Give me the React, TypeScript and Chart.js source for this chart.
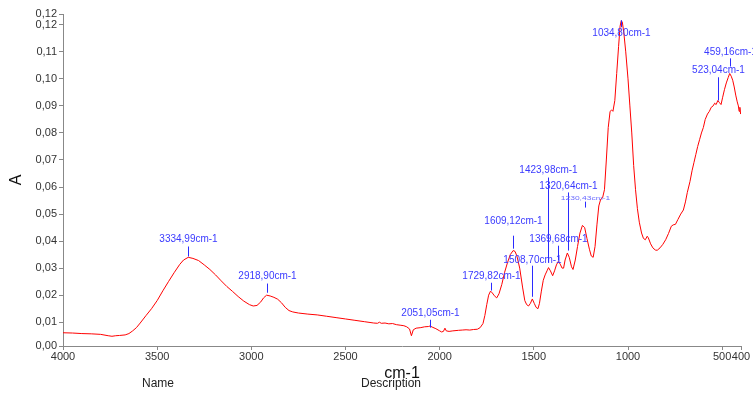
import React, { useEffect, useRef } from 'react';
import { Chart, registerables } from 'chart.js';

Chart.register(...registerables);

// ---- Data ----
const wavenumbers: number[] = [
  4000, 3950, 3900, 3850, 3800, 3760, 3740, 3720, 3700, 3670, 3650, 3630, 3610, 3590, 3560, 3530, 3500,
  3470, 3440, 3410, 3380, 3360, 3335, 3310, 3280, 3250, 3220, 3190, 3160, 3130, 3100, 3070, 3040, 3010,
  2990, 2970, 2950, 2935, 2919, 2900, 2880, 2860, 2840, 2820, 2800, 2780, 2750, 2700, 2650, 2600, 2550,
  2500, 2450, 2400, 2350, 2330, 2320, 2310, 2290, 2270, 2250, 2230, 2210, 2190, 2175, 2160, 2150, 2140,
  2125, 2100, 2080, 2060, 2051, 2040, 2020, 2000, 1990, 1980, 1972, 1965, 1950, 1930, 1900, 1880, 1860,
  1840, 1820, 1800, 1785, 1770, 1760, 1750, 1740, 1730, 1720, 1710, 1697, 1685, 1670, 1655, 1640, 1625,
  1610, 1600, 1590, 1575, 1560, 1548, 1538, 1528, 1518, 1508, 1498, 1488, 1478, 1470, 1460, 1450, 1440,
  1430, 1422, 1412, 1400, 1390, 1380, 1370, 1360, 1350, 1342, 1334, 1322, 1312, 1300, 1292, 1280, 1268,
  1255, 1242, 1230, 1218, 1205, 1195, 1185, 1175, 1165, 1155, 1145, 1135, 1125, 1115, 1105, 1095, 1087,
  1080, 1070, 1060, 1050, 1042, 1036, 1030, 1022, 1012, 1000, 990, 980, 970, 960, 950, 940, 928, 918,
  908, 898, 892, 880, 868, 855, 845, 830, 815, 800, 785, 770, 760, 748, 735, 720, 706, 695, 685, 671,
  660, 650, 640, 630, 620, 610, 600, 590, 578, 568, 558, 548, 540, 532, 523, 514, 506, 498, 488, 478,
  468, 460, 452, 444, 436, 428, 420, 414, 410, 406, 402, 400,
];

const absorbance: number[] = [
  0.0061, 0.0060, 0.0058, 0.0057, 0.0055, 0.0050, 0.0048, 0.0050, 0.0051, 0.0053, 0.0058, 0.0068, 0.0080,
  0.0097, 0.0124, 0.0150, 0.0180, 0.0216, 0.0250, 0.0283, 0.0314, 0.0330, 0.0340, 0.0336, 0.0328, 0.0312,
  0.0295, 0.0275, 0.0253, 0.0232, 0.0214, 0.0195, 0.0178, 0.0165, 0.0160, 0.0162, 0.0175, 0.0190, 0.0200,
  0.0197, 0.0192, 0.0185, 0.0172, 0.0155, 0.0143, 0.0138, 0.0134, 0.0130, 0.0127, 0.0122, 0.0117, 0.0112,
  0.0107, 0.0102, 0.0097, 0.0096, 0.0100, 0.0096, 0.0097, 0.0094, 0.0095, 0.0091, 0.0089, 0.0087, 0.0083,
  0.0075, 0.0050, 0.0072, 0.0078, 0.0080, 0.0083, 0.0084, 0.0086, 0.0082, 0.0076, 0.0068, 0.0064, 0.0066,
  0.0078, 0.0068, 0.0066, 0.0068, 0.0070, 0.0071, 0.0072, 0.0071, 0.0073, 0.0074, 0.0080, 0.0095, 0.0125,
  0.0165, 0.0200, 0.0215, 0.0208, 0.0198, 0.0190, 0.0205, 0.0240, 0.0285, 0.0320, 0.0350, 0.0365, 0.0362,
  0.0345, 0.0300, 0.0230, 0.0180, 0.0165, 0.0160, 0.0170, 0.0186, 0.0170, 0.0155, 0.0150, 0.0170, 0.0215,
  0.0255, 0.0275, 0.0290, 0.0302, 0.0290, 0.0272, 0.0290, 0.0312, 0.0325, 0.0315, 0.0300, 0.0300, 0.0330,
  0.0356, 0.0340, 0.0305, 0.0295, 0.0330, 0.0380, 0.0430, 0.0458, 0.0450, 0.0410, 0.0370, 0.0345, 0.0340,
  0.0380, 0.0460, 0.0530, 0.0555, 0.0560, 0.0590, 0.0700, 0.0820, 0.0880, 0.0885, 0.0880, 0.0920, 0.1020,
  0.1120, 0.1195, 0.1215, 0.1210, 0.1170, 0.1100, 0.1000, 0.0900, 0.0800, 0.0680, 0.0590, 0.0520, 0.0470,
  0.0430, 0.0410, 0.0405, 0.0418, 0.0412, 0.0390, 0.0375, 0.0367, 0.0366, 0.0375, 0.0388, 0.0405, 0.0428,
  0.0455, 0.0460, 0.0462, 0.0480, 0.0500, 0.0515, 0.0545, 0.0580, 0.0620, 0.0660, 0.0690, 0.0720, 0.0750,
  0.0775, 0.0800, 0.0820, 0.0850, 0.0870, 0.0880, 0.0895, 0.0900, 0.0910, 0.0905, 0.0920, 0.0912, 0.0905,
  0.0930, 0.0960, 0.0985, 0.1005, 0.1020, 0.1010, 0.0995, 0.0970, 0.0940, 0.0915, 0.0900, 0.0880, 0.0895,
  0.0870, 0.0872,
];

const xTickValues: number[] = [4000, 3500, 3000, 2500, 2000, 1500, 1000, 500, 400];
const yTickValues: number[] = [0.01, 0.02, 0.03, 0.04, 0.05, 0.06, 0.07, 0.08, 0.09, 0.10, 0.11, 0.12];
const X_MIN = 400;
const X_MAX = 4000;
const Y_MIN = 0.0012;
const Y_MAX = 0.124;

// Peak annotations
const peakLabels: string[] = [
  '3334,99cm-1', '2918,90cm-1', '2051,05cm-1', '1729,82cm-1', '1609,12cm-1', '1508,70cm-1',
  '1423,98cm-1', '1369,68cm-1', '1320,64cm-1', '1230,43cm-1', '1034,80cm-1', '523,04cm-1', '459,16cm-1',
];
const peakWaves: number[] = [3334.99, 2918.9, 2051.05, 1729.82, 1609.12, 1508.7, 1423.98, 1369.68, 1320.64, 1230.43, 1034.8, 523.04, 459.16];
const peakTextLevel: number[] = [0.0406, 0.0269, 0.0132, 0.0269, 0.0472, 0.0328, 0.0661, 0.0406, 0.0602, 0.0557, 0.1169, 0.1032, 0.1098];
const peakLineTop: number[] = [0.0380, 0.0243, 0.0109, 0.0246, 0.0420, 0.0309, 0.0635, 0.0383, 0.0580, 0.0546, 0.1217, 0.1006, 0.1076];
const peakLineBottom: number[] = [0.0343, 0.0209, 0.0080, 0.0217, 0.0372, 0.0194, 0.0320, 0.0328, 0.0365, 0.0524, 0.1191, 0.0920, 0.1046];

const FONT = "'Liberation Sans', Arial, sans-serif";

const peakPlugin = {
  id: 'peakLabels',
  afterDatasetsDraw(chart: any) {
    const { ctx, scales } = chart;
    const xs = scales.x;
    const ys = scales.y;
    ctx.save();
    for (let i = 0; i < peakLabels.length; i++) {
      const x = Math.round(xs.getPixelForValue(peakWaves[i])) + 0.5;
      ctx.strokeStyle = '#2b2bff';
      ctx.lineWidth = 1;
      ctx.beginPath();
      ctx.moveTo(x, ys.getPixelForValue(peakLineTop[i]));
      ctx.lineTo(x, ys.getPixelForValue(peakLineBottom[i]));
      ctx.stroke();
      const ty = ys.getPixelForValue(peakTextLevel[i]);
      ctx.fillStyle = '#3a3aff';
      ctx.textAlign = 'center';
      ctx.textBaseline = 'middle';
      if (peakLabels[i] === '1230,43cm-1') {
        ctx.save();
        ctx.translate(x, ty);
        ctx.scale(1.7, 1);
        ctx.font = `5px ${FONT}`;
        ctx.fillStyle = '#6a6aff';
        ctx.fillText(peakLabels[i], 0, 0);
        ctx.restore();
      } else {
        ctx.font = `10px ${FONT}`;
        ctx.fillText(peakLabels[i], x, ty);
      }
    }
    ctx.restore();
  },
  afterDraw(chart: any) {
    const { ctx } = chart;
    ctx.save();
    ctx.fillStyle = '#222';
    ctx.font = `12px ${FONT}`;
    ctx.textAlign = 'center';
    ctx.textBaseline = 'middle';
    ctx.fillText('Name', 158, 384);
    ctx.fillText('Description', 391, 384);
    ctx.restore();
  },
};

export default function App() {
  const canvasRef = useRef<HTMLCanvasElement | null>(null);

  useEffect(() => {
    if (!canvasRef.current) return;
    const points = wavenumbers.map((w, i) => ({ x: w, y: absorbance[i] }));
    const chart = new Chart(canvasRef.current, {
      type: 'line',
      data: {
        datasets: [
          {
            data: points,
            borderColor: '#ff0000',
            borderWidth: 1,
            pointRadius: 0,
            tension: 0,
            fill: false,
          },
        ],
      },
      options: {
        animation: false,
        responsive: false,
        maintainAspectRatio: false,
        parsing: false as any,
        layout: { padding: { top: 14, right: 12, bottom: 13, left: 0 } },
        plugins: { legend: { display: false }, tooltip: { enabled: false } },
        scales: {
          x: {
            type: 'linear',
            reverse: true,
            min: X_MIN,
            max: X_MAX,
            afterBuildTicks: (scale: any) => {
              scale.ticks = xTickValues.map((v) => ({ value: v }));
            },
            afterFit: (scale: any) => {
              scale.height = 37;
            },
            grid: { drawOnChartArea: false, drawTicks: true, tickLength: 4, color: '#888' },
            border: { display: true, color: '#888', width: 1 },
            ticks: {
              autoSkip: false,
              maxRotation: 0,
              padding: 0,
              color: '#333',
              font: { family: FONT, size: 11 },
              callback: (v: any) => String(v),
            },
            title: {
              display: true,
              text: 'cm-1',
              color: '#111',
              font: { family: FONT, size: 16 },
              padding: { top: 0, bottom: 0 },
            },
          },
          y: {
            type: 'linear',
            min: Y_MIN,
            max: Y_MAX,
            afterBuildTicks: (scale: any) => {
              scale.ticks = [Y_MIN, ...yTickValues, Y_MAX].map((v) => ({ value: v }));
            },
            afterFit: (scale: any) => {
              scale.width = 63;
            },
            grid: { drawOnChartArea: false, drawTicks: true, tickLength: 4, color: '#888' },
            border: { display: true, color: '#888', width: 1 },
            ticks: {
              autoSkip: false,
              padding: 2,
              color: '#333',
              font: { family: FONT, size: 11 },
              callback: (v: any) => Number(v).toFixed(2).replace('.', ','),
            },
            title: {
              display: true,
              text: 'A',
              color: '#111',
              font: { family: FONT, size: 16 },
              padding: { top: 7, bottom: 0 },
            },
          },
        },
      },
      plugins: [peakPlugin],
    });
    return () => chart.destroy();
  }, []);

  return (
    <div style={{ position: 'fixed', left: 0, top: 0, width: 753, height: 396, background: '#fff' }}>
      <canvas ref={canvasRef} width={753} height={396} style={{ display: 'block' }} />
    </div>
  );
}
